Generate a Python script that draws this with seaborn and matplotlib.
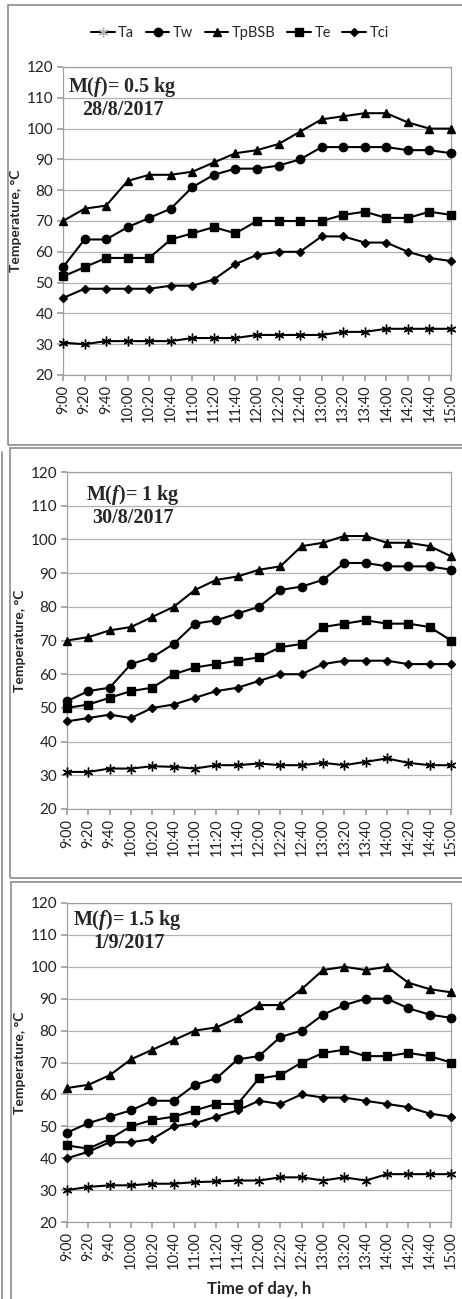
import matplotlib
matplotlib.use("Agg")
import matplotlib.pyplot as plt
import seaborn as sns
import numpy as np
import pandas as pd
from matplotlib.patches import Rectangle
from matplotlib.lines import Line2D

times = ["9:00", "9:20", "9:40", "10:00", "10:20", "10:40", "11:00", "11:20", "11:40",
         "12:00", "12:20", "12:40", "13:00", "13:20", "13:40", "14:00", "14:20", "14:40", "15:00"]

# Panel 1: M(f)=0.5 kg, 28/8/2017
p1_Ta = [30.5, 30, 31, 31, 31, 31, 32, 32, 32, 33, 33, 33, 33, 34, 34, 35, 35, 35, 35]
p1_Tw = [55, 64, 64, 68, 71, 74, 81, 85, 87, 87, 88, 90, 94, 94, 94, 94, 93, 93, 92]
p1_TpBSB = [70, 74, 75, 83, 85, 85, 86, 89, 92, 93, 95, 99, 103, 104, 105, 105, 102, 100, 100]
p1_Te = [52, 55, 58, 58, 58, 64, 66, 68, 66, 70, 70, 70, 70, 72, 73, 71, 71, 73, 72]
p1_Tci = [45, 48, 48, 48, 48, 49, 49, 51, 56, 59, 60, 60, 65, 65, 63, 63, 60, 58, 57]

# Panel 2: M(f)=1 kg, 30/8/2017
p2_Ta = [31, 31, 32, 32, 32.7, 32.5, 32, 33, 33, 33.5, 33, 33, 33.7, 33, 34, 35, 33.7, 33, 33]
p2_Tw = [52, 55, 56, 63, 65, 69, 75, 76, 78, 80, 85, 86, 88, 93, 93, 92, 92, 92, 91]
p2_TpBSB = [70, 71, 73, 74, 77, 80, 85, 88, 89, 91, 92, 98, 99, 101, 101, 99, 99, 98, 95]
p2_Te = [50, 51, 53, 55, 56, 60, 62, 63, 64, 65, 68, 69, 74, 75, 76, 75, 75, 74, 70]
p2_Tci = [46, 47, 48, 47, 50, 51, 53, 55, 56, 58, 60, 60, 63, 64, 64, 64, 63, 63, 63]

# Panel 3: M(f)=1.5 kg, 1/9/2017
p3_Ta = [30, 31, 31.5, 31.5, 32, 32, 32.5, 32.7, 33, 33, 34, 34, 33, 34, 33, 35, 35, 35, 35]
p3_Tw = [48, 51, 53, 55, 58, 58, 63, 65, 71, 72, 78, 80, 85, 88, 90, 90, 87, 85, 84]
p3_TpBSB = [62, 63, 66, 71, 74, 77, 80, 81, 84, 88, 88, 93, 99, 100, 99, 100, 95, 93, 92]
p3_Te = [44, 43, 46, 50, 52, 53, 55, 57, 57, 65, 66, 70, 73, 74, 72, 72, 73, 72, 70]
p3_Tci = [40, 42, 45, 45, 46, 50, 51, 53, 55, 58, 57, 60, 59, 59, 58, 57, 56, 54, 53]

series_names = ["Ta", "Tw", "TpBSB", "Te", "Tci"]
panel_titles = ["M($\\mathit{f}$)= 0.5 kg", "M($\\mathit{f}$)= 1 kg", "M($\\mathit{f}$)= 1.5 kg"]
panel_dates = ["28/8/2017", "30/8/2017", "1/9/2017"]
yticks = [20, 30, 40, 50, 60, 70, 80, 90, 100, 110, 120]

panels = [
    [p1_Ta, p1_Tw, p1_TpBSB, p1_Te, p1_Tci],
    [p2_Ta, p2_Tw, p2_TpBSB, p2_Te, p2_Tci],
    [p3_Ta, p3_Tw, p3_TpBSB, p3_Te, p3_Tci],
]

sns.set_theme(style="white")
plt.rcParams['font.family'] = ['Lato', 'DejaVu Sans']
plt.rcParams['mathtext.fontset'] = 'custom'
plt.rcParams['mathtext.it'] = 'Liberation Serif:italic:bold'
plt.rcParams['mathtext.rm'] = 'Liberation Serif:bold'

W, H = 462, 1299
fig = plt.figure(figsize=(W / 100, H / 100), dpi=100)

def fx(px):
    return px / W

def fy(py):
    return 1 - py / H

# panel frames (chart-area borders)
frames = [(8, 5, 470, 445), (10, 448, 470, 878), (11, 882, 470, 1310)]
for (x0, y0, x1, y1) in frames:
    fig.patches.append(Rectangle((fx(x0), fy(y1)), fx(x1 - x0), (y1 - y0) / H,
                                 transform=fig.transFigure, fill=False,
                                 edgecolor="#8c8c8c", linewidth=1.2, zorder=0))
fig.lines.append(Line2D([fx(2), fx(2)], [fy(452), fy(1299)], transform=fig.transFigure,
                        color="#8c8c8c", linewidth=1.2))

axes_px = [(63, 67, 451, 375), (67, 472, 451, 809), (67, 903, 451, 1222)]
text_pos = [((0.013, 0.935), (0.049, 0.86)),
            ((0.05, 0.932), (0.065, 0.864)),
            ((0.016, 0.947), (0.068, 0.875))]

markers = {"Ta": (6, 2, 0), "Tw": "o", "TpBSB": "^", "Te": "s", "Tci": "D"}
msizes = {"Ta": 7, "Tw": 6, "TpBSB": 6, "Te": 6, "Tci": 4.5}

x = np.arange(len(times))
for i, (vals, (l, t, r, b)) in enumerate(zip(panels, axes_px)):
    ax = fig.add_axes([fx(l), fy(b), (r - l) / W, (b - t) / H])
    for name, v in zip(series_names, vals):
        df = pd.DataFrame({"time": x, "temp": v})
        sns.lineplot(data=df, x="time", y="temp", ax=ax, color="black", linewidth=1.5,
                     marker=markers[name], markersize=msizes[name],
                     markeredgecolor="black", markerfacecolor="black",
                     markeredgewidth=1.0, legend=False, clip_on=False, zorder=3)
    ax.set_xlim(0, 18)
    ax.set_ylim(20, 120)
    ax.set_yticks(yticks)
    ax.set_yticklabels([str(v) for v in yticks], fontsize=11)
    ax.set_xticks(x)
    ax.set_xticklabels(times, rotation=90, fontsize=10.5)
    ax.grid(axis="y", color="#b0b0b0", linewidth=0.9)
    ax.grid(axis="x", visible=False)
    for s in ax.spines.values():
        s.set_color("#a0a0a0")
        s.set_linewidth(0.9)
    ax.tick_params(axis="both", which="both", length=4, direction="out",
                   left=True, bottom=True, pad=3, labelcolor="#222222", color="#a0a0a0")
    ax.set_ylabel("Temperature, °C", fontsize=10, fontweight="bold", labelpad=3)
    if i == 2:
        ax.set_xlabel("Time of day, h", fontsize=12, fontweight="bold", labelpad=8)
    else:
        ax.set_xlabel("")
    (tx1, ty1), (tx2, ty2) = text_pos[i]
    ax.text(tx1, ty1, panel_titles[i], transform=ax.transAxes, fontsize=14.5,
            fontweight="bold", family="Liberation Serif", va="center", ha="left")
    ax.text(tx2, ty2, panel_dates[i], transform=ax.transAxes, fontsize=14.5,
            fontweight="bold", family="Liberation Serif", va="center", ha="left")
    if i == 0:
        handles = []
        for name in series_names:
            mcol = "#b0b0b0" if name == "Ta" else "black"
            handles.append(Line2D([0], [0], color="black", linewidth=1.5, marker=markers[name],
                                  markersize=msizes[name], markerfacecolor=mcol,
                                  markeredgecolor=mcol, label=name))
        fig.legend(handles=handles, loc="center", bbox_to_anchor=(fx(240), fy(33)),
                   ncol=5, frameon=False, fontsize=10.5, handlelength=1.6,
                   handletextpad=0.25, columnspacing=0.8)

fig.savefig("out.png", dpi=100)
